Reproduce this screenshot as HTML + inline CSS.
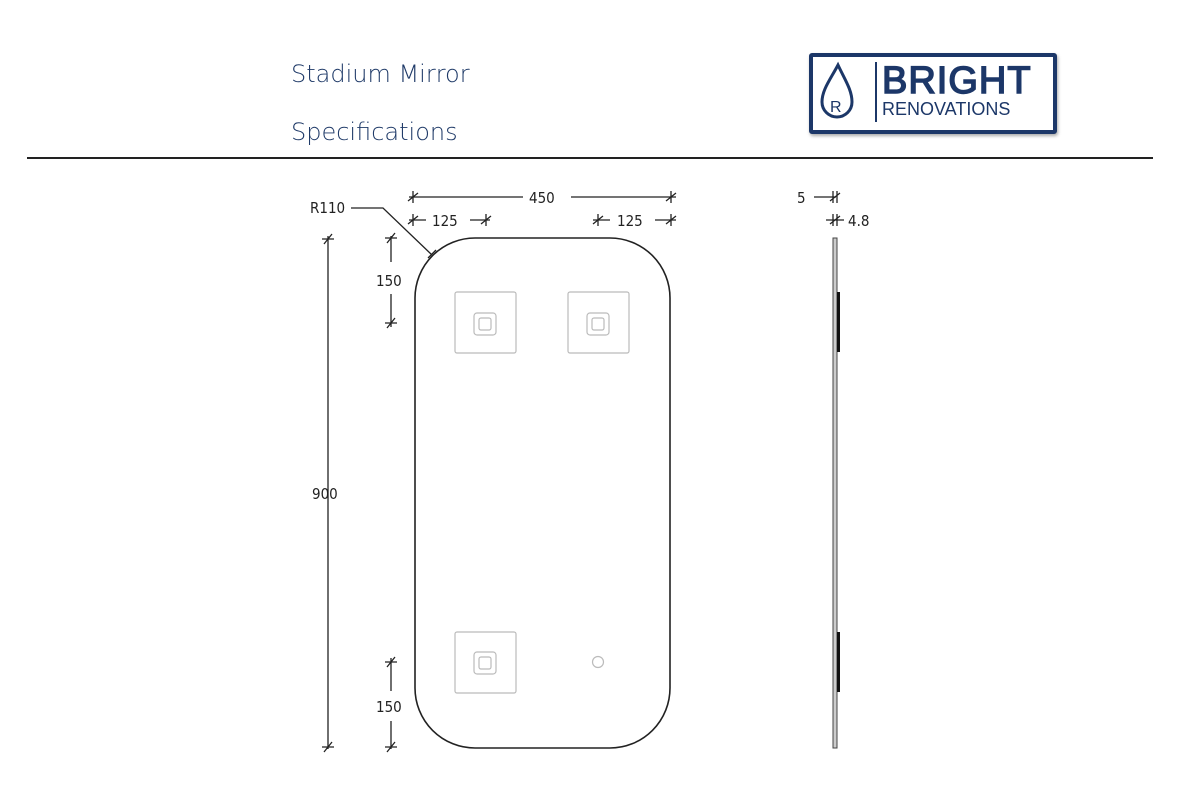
<!DOCTYPE html>
<html><head><meta charset="utf-8"><style>
body{margin:0;background:#fff;width:1200px;height:800px;overflow:hidden;font-family:"Liberation Sans",sans-serif}
.t{position:absolute;left:291px;color:#1f3a68;font-size:24px;font-family:"DejaVu Sans","Liberation Sans",sans-serif;font-weight:300}
</style></head><body>
<div class="t" style="top:60px">Stadium Mirror</div>
<div class="t" style="top:118px">Specifications</div>
<div style="position:absolute;left:27px;top:157px;width:1126px;height:2px;background:#222"></div>
<div style="position:absolute;left:809px;top:53px;width:240px;height:73px;border:4px solid #1c3768;border-radius:3px;background:#fff;box-shadow:1px 2px 3px #aaa"></div>
<div style="position:absolute;left:875px;top:62px;width:2px;height:60px;background:#1c3768"></div>
<div style="position:absolute;left:882px;top:60px;font-size:38px;color:#1c3768;letter-spacing:1px;-webkit-text-stroke:1.5px #1c3768">BRIGHT</div>
<div style="position:absolute;left:882px;top:99px;font-size:18px;color:#1c3768">RENOVATIONS</div>
<svg style="position:absolute;left:0;top:0" width="1200" height="800">
<path d="M838,65 C830,80 822,90 822,102 A15,15 0 0 0 852,102 C852,90 845,80 838,65Z" fill="none" stroke="#1c3768" stroke-width="3"/>
<text x="830" y="112" font-size="16" fill="#1c3768" font-family="Liberation Sans">R</text>
<g stroke="#222" stroke-width="1.3" fill="none">
<path d="M475,238 H610 A60,60 0 0 1 670,298 V688 A60,60 0 0 1 610,748 H475 A60,60 0 0 1 415,688 V298 A60,60 0 0 1 475,238Z" stroke-width="1.6"/>
<path d="M409,197 H523 M571,197 H676"/>
<path d="M409,220 H426 M470,220 H490 M593,220 H610 M655,220 H676"/>
<path d="M351,208 H383 L432,255"/>
<path d="M328,236 V749"/>
<path d="M391,236 V262 M391,294 V327 M391,658 V691 M391,721 V749"/>
<path d="M814,197 H836 M826,220 H844"/>
</g>
<g stroke="#222" stroke-width="1.3">
<path d="M413,191 V203 M408,201 L418,193 M671,191 V203 M666,201 L676,193"/>
<path d="M413,214 V226 M408,224 L418,216 M486,214 V226 M481,224 L491,216 M598,214 V226 M593,224 L603,216 M671,214 V226 M666,224 L676,216"/>
<path d="M322,239 H334 M324,244 L332,234 M322,747 H334 M324,752 L332,742"/>
<path d="M385,238 H397 M387,243 L395,233 M385,323 H397 M387,328 L395,318 M385,662 H397 M387,667 L395,657 M385,747 H397 M387,752 L395,742"/>
<path d="M833,191 V203 M837,191 V203 M830,201 L840,193 M833,214 V226 M837,214 V226 M830,224 L840,216"/>
<path d="M428,258 L436,250"/>
</g>
<g stroke="#bbb" stroke-width="1.2" fill="none">
<rect x="455" y="292" width="61" height="61" rx="2"/><rect x="568" y="292" width="61" height="61" rx="2"/><rect x="455" y="632" width="61" height="61" rx="2"/>
<rect x="474" y="313" width="22" height="22" rx="3"/><rect x="587" y="313" width="22" height="22" rx="3"/><rect x="474" y="652" width="22" height="22" rx="3"/>
<rect x="479" y="318" width="12" height="12" rx="2"/><rect x="592" y="318" width="12" height="12" rx="2"/><rect x="479" y="657" width="12" height="12" rx="2"/>
<circle cx="598" cy="662" r="5.5"/>
</g>
<rect x="833" y="238" width="4" height="510" fill="#ccc" stroke="#444" stroke-width="1"/>
<rect x="837" y="292" width="3" height="60" fill="#111"/><rect x="837" y="632" width="3" height="60" fill="#111"/>
<g font-family="DejaVu Sans Condensed, Liberation Sans" font-size="15" fill="#222">
<text x="529" y="203">450</text>
<text x="432" y="226">125</text><text x="617" y="226">125</text>
<text x="310" y="213">R110</text>
<text x="376" y="286">150</text><text x="376" y="712">150</text>
<text x="312" y="499">900</text>
<text x="797" y="203">5</text><text x="848" y="226">4.8</text>
</g>
</svg>
</body></html>
